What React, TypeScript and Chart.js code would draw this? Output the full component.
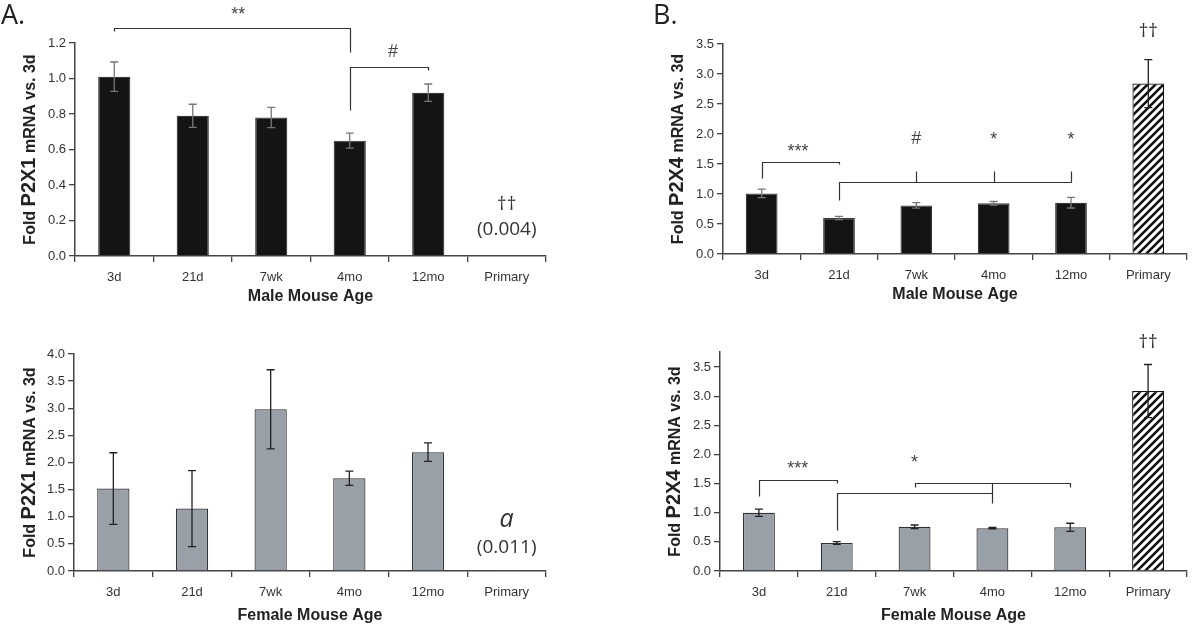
import React, { useEffect, useRef } from "react";
import { Chart, registerables } from "chart.js";

Chart.register(...registerables);

// ---------- data ----------
const categories = ["3d", "21d", "7wk", "4mo", "12mo", "Primary"];

const maleP2X1 = [1.01, 0.79, 0.78, 0.65, 0.92, 0.004];
const maleP2X1Err = [0.083, 0.065, 0.057, 0.042, 0.049, 0];

const femaleP2X1 = [1.52, 1.15, 2.98, 1.71, 2.19, 0.011];
const femaleP2X1Err = [0.66, 0.7, 0.73, 0.13, 0.17, 0];

const maleP2X4 = [1.01, 0.6, 0.81, 0.845, 0.855, 2.84];
const maleP2X4Err = [0.07, 0.027, 0.047, 0.03, 0.088, 0.4];

const femaleP2X4 = [1.0, 0.48, 0.76, 0.735, 0.75, 3.09];
const femaleP2X4Err = [0.063, 0.023, 0.03, 0.012, 0.07, 0.455];

// significance brackets: polylines of [category index, value]
const maleP2X1Brackets = [
  [[0, 1.268], [0, 1.285], [3, 1.285], [3, 1.149]],
  [[3, 0.823], [3, 1.065], [4, 1.065], [4, 1.048]],
];
const femaleP2X1Brackets: number[][][] = [];
const maleP2X4Brackets = [
  [[0, 1.27], [0, 1.53], [1, 1.53], [1, 1.5]],
  [[1, 0.9], [1, 1.2], [4, 1.2]],
  [[2, 1.2], [2, 1.38]],
  [[3, 1.2], [3, 1.38]],
  [[4, 1.2], [4, 1.38]],
];
const femaleP2X4Brackets = [
  [[0, 1.29], [0, 1.56], [1, 1.56], [1, 1.51]],
  [[1, 0.7], [1, 1.34], [3, 1.34], [3, 1.17]],
  [[2, 1.44], [2, 1.51], [4, 1.51], [4, 1.44]],
  [[3, 1.34], [3, 1.51]],
];

type Mark = { x: number; y: number; text: string; kind: string };
const maleP2X1Marks: Mark[] = [
  { x: 1.58, y: 1.358, text: "**", kind: "sig" },
  { x: 3.55, y: 1.15, text: "#", kind: "sig" },
  { x: 5, y: 0.287, text: "††", kind: "note" },
  { x: 5, y: 0.146, text: "(0.004)", kind: "note" },
];
const femaleP2X1Marks: Mark[] = [
  { x: 5, y: 0.94, text: "a", kind: "ital" },
  { x: 5, y: 0.44, text: "(0.011)", kind: "note" },
];
const maleP2X4Marks: Mark[] = [
  { x: 0.47, y: 1.7, text: "***", kind: "sig" },
  { x: 2, y: 1.92, text: "#", kind: "sig" },
  { x: 3, y: 1.9, text: "*", kind: "sig" },
  { x: 4, y: 1.9, text: "*", kind: "sig" },
  { x: 5, y: 3.7, text: "††", kind: "note" },
];
const femaleP2X4Marks: Mark[] = [
  { x: 0.5, y: 1.75, text: "***", kind: "sig" },
  { x: 2, y: 1.85, text: "*", kind: "sig" },
  { x: 5, y: 3.93, text: "††", kind: "note" },
];

// ---------- styles ----------
const AXIS = "#444";
const TICK = "#333";
const SANS = '"Liberation Sans", Arial, sans-serif';
const NOTE = '"Open Sans", "DejaVu Sans", sans-serif';
const MARK_FONTS: Record<string, string> = {
  sig: `18px ${SANS}`,
  note: `19px ${NOTE}`,
  ital: `italic 25px ${NOTE}`,
};

type Panel = {
  left: number; top: number; width: number; height: number;
  yWidth: number; padTop: number; padRight: number; xHeight: number;
  yMax: number; yStep: number; yTickMax: number;
  values: number[]; errors: number[];
  fill: string; border: string; errColor: string; hatchLast: boolean;
  gene: string; xTitle: string; xTitleGap: number; yTitleX: number;
  letter?: string; letterX?: number;
  brackets: number[][][]; marks: Mark[];
};

const panels: Panel[] = [
  {
    left: 0, top: 0, width: 600, height: 316,
    yWidth: 75, padTop: 43, padRight: 54, xHeight: 60,
    yMax: 1.2, yStep: 0.2, yTickMax: 1.2,
    values: maleP2X1, errors: maleP2X1Err,
    fill: "#141414", border: "#3a3a3a", errColor: "#777", hatchLast: false,
    gene: "P2X1", xTitle: "Male Mouse Age", xTitleGap: 41, yTitleX: 28,
    letter: "A.", letterX: 1,
    brackets: maleP2X1Brackets, marks: maleP2X1Marks,
  },
  {
    left: 0, top: 316, width: 600, height: 317,
    yWidth: 74, padTop: 38, padRight: 54, xHeight: 62,
    yMax: 4.0, yStep: 0.5, yTickMax: 4.0,
    values: femaleP2X1, errors: femaleP2X1Err,
    fill: "#9aa0a8", border: "#333", errColor: "#222", hatchLast: false,
    gene: "P2X1", xTitle: "Female Mouse Age", xTitleGap: 45, yTitleX: 28,
    brackets: femaleP2X1Brackets, marks: femaleP2X1Marks,
  },
  {
    left: 600, top: 0, width: 600, height: 316,
    yWidth: 123, padTop: 44, padRight: 13, xHeight: 62,
    yMax: 3.5, yStep: 0.5, yTickMax: 3.5,
    values: maleP2X4, errors: maleP2X4Err,
    fill: "#141414", border: "#3a3a3a", errColor: "#777", hatchLast: true,
    gene: "P2X4", xTitle: "Male Mouse Age", xTitleGap: 41, yTitleX: 76,
    letter: "B.", letterX: 53,
    brackets: maleP2X4Brackets, marks: maleP2X4Marks,
  },
  {
    left: 600, top: 316, width: 600, height: 317,
    yWidth: 120, padTop: 36, padRight: 13, xHeight: 62,
    yMax: 3.76, yStep: 0.5, yTickMax: 3.5,
    values: femaleP2X4, errors: femaleP2X4Err,
    fill: "#9aa0a8", border: "#333", errColor: "#222", hatchLast: true,
    gene: "P2X4", xTitle: "Female Mouse Age", xTitleGap: 45, yTitleX: 73,
    brackets: femaleP2X4Brackets, marks: femaleP2X4Marks,
  },
];

function makeHatch(): CanvasPattern | string {
  const s = 8;
  const c = document.createElement("canvas");
  c.width = s;
  c.height = s;
  const g = c.getContext("2d");
  if (!g) return "#fff";
  g.fillStyle = "#fff";
  g.fillRect(0, 0, s, s);
  g.strokeStyle = "#111";
  g.lineWidth = 2.6;
  g.beginPath();
  g.moveTo(-1, s + 1); g.lineTo(s + 1, -1);
  g.moveTo(-1, 1); g.lineTo(1, -1);
  g.moveTo(s - 1, s + 1); g.lineTo(s + 1, s - 1);
  g.stroke();
  return g.createPattern(c, "repeat") || "#fff";
}

function ChartPanel({ p }: { p: Panel }) {
  const ref = useRef<HTMLCanvasElement | null>(null);
  useEffect(() => {
    if (!ref.current) return;
    const hatch = makeHatch();
    const colors = p.values.map((_, i) => (p.hatchLast && i === p.values.length - 1 ? hatch : p.fill));
    const borders = p.values.map((_, i) => (p.hatchLast && i === p.values.length - 1 ? "#111" : p.border));

    const decor = {
      id: "decor",
      afterDatasetsDraw(chart: any) {
        const ctx = chart.ctx;
        const ys = chart.scales.y;
        const meta = chart.getDatasetMeta(0);
        ctx.save();
        meta.data.forEach((el: any, i: number) => {
          const e = p.errors[i];
          if (!e) return;
          const v = p.values[i];
          const x = el.x;
          const y1 = ys.getPixelForValue(v + e);
          const y0 = ys.getPixelForValue(v - e);
          ctx.strokeStyle = p.hatchLast && i === p.values.length - 1 ? "#222" : p.errColor;
          ctx.lineWidth = 1.3;
          ctx.beginPath();
          ctx.moveTo(x, y0); ctx.lineTo(x, y1);
          ctx.moveTo(x - 4, y0); ctx.lineTo(x + 4, y0);
          ctx.moveTo(x - 4, y1); ctx.lineTo(x + 4, y1);
          ctx.stroke();
        });
        ctx.restore();
      },
      afterDraw(chart: any) {
        const ctx = chart.ctx;
        const xs = chart.scales.x;
        const ys = chart.scales.y;
        const ca = chart.chartArea;
        ctx.save();
        // brackets
        ctx.strokeStyle = "#333";
        ctx.lineWidth = 1.2;
        p.brackets.forEach((pl) => {
          ctx.beginPath();
          pl.forEach((pt, k) => {
            const x = Math.round(xs.getPixelForValue(pt[0])) + 0.5;
            const y = Math.round(ys.getPixelForValue(pt[1])) + 0.5;
            if (k === 0) ctx.moveTo(x, y);
            else ctx.lineTo(x, y);
          });
          ctx.stroke();
        });
        // marks
        ctx.textAlign = "center";
        ctx.textBaseline = "middle";
        p.marks.forEach((m) => {
          ctx.font = MARK_FONTS[m.kind];
          ctx.fillStyle = m.kind === "sig" ? "#444" : "#333";
          ctx.fillText(m.text, xs.getPixelForValue(m.x), ys.getPixelForValue(m.y));
        });
        // x title
        ctx.font = `bold 16px ${SANS}`;
        ctx.fillStyle = "#222";
        ctx.fillText(p.xTitle, (ca.left + ca.right) / 2, ca.bottom + p.xTitleGap);
        // y title (mixed sizes)
        const parts = [
          { t: "Fold ", f: `bold 16px ${SANS}` },
          { t: p.gene, f: `bold 20px ${SANS}` },
          { t: " mRNA vs. 3d", f: `bold 16px ${SANS}` },
        ];
        let total = 0;
        const widths = parts.map((pt) => {
          ctx.font = pt.f;
          const w = ctx.measureText(pt.t).width;
          total += w;
          return w;
        });
        ctx.translate(p.yTitleX, (ca.top + ca.bottom) / 2);
        ctx.rotate(-Math.PI / 2);
        ctx.textAlign = "left";
        ctx.textBaseline = "alphabetic";
        let cx = -total / 2;
        parts.forEach((pt, i) => {
          ctx.font = pt.f;
          ctx.fillText(pt.t, cx, 7);
          cx += widths[i];
        });
        ctx.setTransform(1, 0, 0, 1, 0, 0);
        // panel letter
        if (p.letter) {
          ctx.font = `27px ${NOTE}`;
          ctx.fillStyle = "#222";
          ctx.textAlign = "left";
          ctx.textBaseline = "middle";
          ctx.fillText(p.letter, p.letterX || 0, 16);
        }
        ctx.restore();
      },
    };

    const chart = new Chart(ref.current, {
      type: "bar",
      data: {
        labels: categories,
        datasets: [
          {
            data: p.values,
            backgroundColor: colors as any,
            borderColor: borders,
            borderWidth: 1.2,
            barPercentage: 0.41,
            categoryPercentage: 1,
          },
        ],
      },
      options: {
        responsive: false,
        animation: false,
        events: [],
        layout: { padding: { top: p.padTop, right: p.padRight, left: 0, bottom: 0 } },
        plugins: { legend: { display: false }, tooltip: { enabled: false }, title: { display: false } },
        scales: {
          x: {
            type: "category",
            grid: { offset: true, drawOnChartArea: false, drawTicks: true, tickLength: 6, color: AXIS, lineWidth: 1.3 },
            border: { display: true, color: AXIS, width: 1.5 },
            ticks: { color: TICK, font: { family: SANS, size: 13 }, padding: 8, maxRotation: 0, autoSkip: false },
            afterFit: (s: any) => { s.height = p.xHeight; },
          },
          y: {
            min: 0,
            max: p.yMax,
            grid: { drawOnChartArea: false, drawTicks: true, tickLength: 6, color: AXIS, lineWidth: 1.3 },
            border: { display: true, color: AXIS, width: 1.5 },
            ticks: {
              stepSize: p.yStep,
              color: TICK,
              font: { family: SANS, size: 13 },
              padding: 3,
              callback: (v: any) => Number(v).toFixed(1),
            },
            afterBuildTicks: (s: any) => {
              s.ticks = s.ticks.filter((t: any) => t.value <= p.yTickMax + 1e-6);
            },
            afterFit: (s: any) => { s.width = p.yWidth; },
          },
        },
      } as any,
      plugins: [decor],
    });
    return () => chart.destroy();
  }, [p]);

  return (
    <canvas
      ref={ref}
      width={p.width}
      height={p.height}
      style={{ position: "absolute", left: p.left, top: p.top, width: p.width, height: p.height }}
    />
  );
}

export default function App() {
  return (
    <div style={{ position: "fixed", left: 0, top: 0, width: 1200, height: 633, background: "#fff", overflow: "hidden" }}>
      {panels.map((p, i) => (
        <ChartPanel key={i} p={p} />
      ))}
    </div>
  );
}
